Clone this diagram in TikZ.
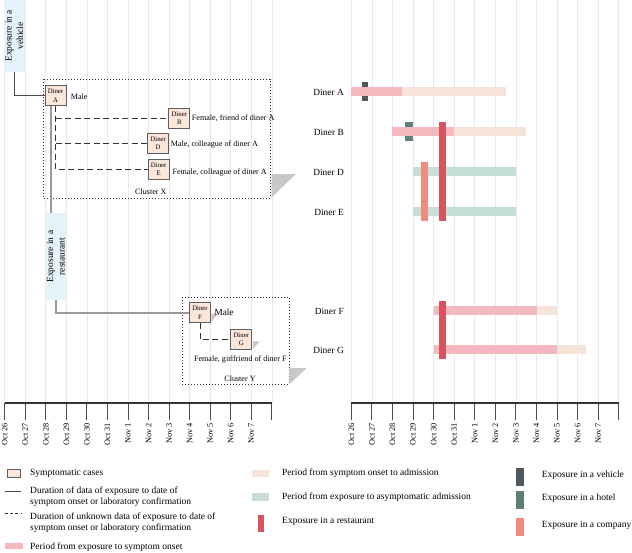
\documentclass[tikz,border=0pt]{standalone}
\usepackage{fontspec}
\setmainfont{Liberation Serif}
\definecolor{gridc}{HTML}{E9E9E9}
\definecolor{boxfill}{HTML}{FBE7DA}
\definecolor{boxdraw}{HTML}{5E5E5E}
\definecolor{lblblue}{HTML}{E4F2FA}
\definecolor{pinkc}{HTML}{F4B9BE}
\definecolor{beigec}{HTML}{F6E3DA}
\definecolor{greenc}{HTML}{C5DFD6}
\definecolor{redc}{HTML}{D9535F}
\definecolor{salmonc}{HTML}{EF8B7F}
\definecolor{vehc}{HTML}{4E585D}
\definecolor{hotelc}{HTML}{5C8076}
\definecolor{shadowc}{HTML}{C8C8C8}
\definecolor{thickc}{HTML}{9A9A9A}
\begin{document}
\begin{tikzpicture}[x=1pt,y=-1pt,
 gridln/.style={draw=gridc, line width=0.7pt},
 tickln/.style={draw=black!70, line width=0.9pt},
 axisln/.style={draw=black!80, line width=1.1pt},
 ticklbl/.style={rotate=90, anchor=east, inner sep=0pt, font=\fontsize{8.3}{10}\selectfont},
 nbox/.style={draw=boxdraw, fill=boxfill, line width=0.9pt, minimum width=21pt, minimum height=20pt, inner sep=0pt, align=center, font=\fontsize{6.8}{8.2}\selectfont},
 lblbox/.style={fill=lblblue, rotate=90, inner sep=0pt, align=center, font=\fontsize{9.4}{11.4}\selectfont},
 solidln/.style={draw=black!70, line width=0.9pt},
 thickln/.style={draw=thickc, line width=2pt},
 dashln/.style={draw=black!80, line width=0.8pt, dash pattern=on 6pt off 3.5pt},
 clusterbox/.style={draw=black!80, line width=0.9pt, dash pattern=on 0.9pt off 2.1pt},
 smalltxt/.style={inner sep=0pt, font=\fontsize{8.1}{9.6}\selectfont},
 rowlbl/.style={anchor=east, inner sep=0pt, font=\fontsize{9.4}{11}\selectfont},
 legtxt/.style={anchor=west, inner sep=0pt, align=left, font=\fontsize{9.5}{11.6}\selectfont},
]
\useasboundingbox (0,0) rectangle (632,552);
\fill[white] (0,0) rectangle (632,552);

% grid, axes
\foreach \i in {0,...,13} {
  \draw[gridln] ({4.7+20.55*\i},0) -- ({4.7+20.55*\i},403);
  \draw[gridln] ({351.3+20.57*\i},0) -- ({351.3+20.57*\i},403);
  \draw[tickln] ({4.7+20.55*\i},403) -- ({4.7+20.55*\i},420);
  \draw[tickln] ({351.3+20.57*\i},403) -- ({351.3+20.57*\i},420);
}
\draw[axisln] (4.7,403) -- (271.85,403);
\draw[axisln] (351.3,403) -- (618.7,403);
\foreach \t [count=\i from 0] in {Oct 26,Oct 27,Oct 28,Oct 29,Oct 30,Oct 31,Nov 1,Nov 2,Nov 3,Nov 4,Nov 5,Nov 6,Nov 7} {
  \node[ticklbl] (tl\i) at ({4.7+20.55*\i},423) {\t};
  \node[ticklbl] (tr\i) at ({351.3+20.57*\i},423) {\t};
}

% clusters
\draw[clusterbox] (43.3,79) rectangle (270,198.3);
\fill[shadowc] (271.7,174) -- (296,174) -- (271.7,197.3) -- cycle;
\draw[clusterbox] (182.3,297.3) rectangle (289.3,384.3);
\fill[shadowc] (289.3,368) -- (306.7,368) -- (289.3,384.3) -- cycle;

% label boxes
\node[lblbox, minimum width=71.7pt, minimum height=20.7pt] (veh) at (14.35,35.85) {Exposure in a\\vehicle};
\node[lblbox, minimum width=86.7pt, minimum height=20.3pt] (rest) at (55.85,256.65) {Exposure in a\\restaurant};

% nodes
\node[nbox] (A) at (55.5,95.7) {Diner\\A};
\node[nbox] (B) at (179.3,118.3) {Diner\\B};
\node[nbox] (D) at (158.2,143.3) {Diner\\D};
\node[nbox] (E) at (158.7,169.2) {Diner\\E};
\node[nbox] (F) at (200,312.7) {Diner\\F};
\node[nbox] (G) at (241.3,339.3) {Diner\\G};
\fill[shadowc] ([xshift=0.5pt,yshift=-1pt]F.east) -- ++(6.5,0) -- ([xshift=0.5pt,yshift=1.5pt]F.south east) -- cycle;
\fill[shadowc] ([xshift=0.5pt,yshift=-2pt]G.east) -- ++(7,0) -- ([xshift=0.5pt,yshift=0.5pt]G.south east) -- cycle;

% connectors
\draw[solidln] (veh.west) |- (A.west);
\draw[thickln] ([xshift=-4.5pt]A.south) -- ([xshift=-4.5pt]A.south |- rest.east);
\draw[dashln] (A.south) -- (A.south |- E.west) -- (E.west);
\draw[dashln] (A.south |- B.west) -- (B.west);
\draw[dashln] (A.south |- D.west) -- (D.west);
\draw[thickln] (rest.west) |- (F.west);
\draw[dashln] (F.south) |- (G.west);

% node texts
\node[smalltxt, anchor=west] (tA) at (70.7,96.7) {Male};
\node[smalltxt, anchor=west] (tB) at (191.7,118.3) {Female, friend of diner A};
\node[smalltxt, anchor=west] (tD) at (170.7,145) {Male, colleague of diner A};
\node[smalltxt, anchor=west] (tE) at (172.3,172.7) {Female, colleague of diner A};
\node[smalltxt] (cX) at (150.8,191.7) {Cluster X};
\node[inner sep=0pt, anchor=west, font=\fontsize{9.3}{11}\selectfont] (tF) at (214.3,312.3) {Male};
\node[smalltxt] (tG) at (240.3,360) {Female, girlfriend of diner F};
\node[smalltxt] (cY) at (240,378.3) {Cluster Y};

% right chart
\node[rowlbl] (rA) at (344,92.3) {Diner A};
\node[rowlbl] (rB) at (344,132) {Diner B};
\node[rowlbl] (rD) at (344,172) {Diner D};
\node[rowlbl] (rE) at (344,212) {Diner E};
\node[rowlbl] (rF) at (344,311) {Diner F};
\node[rowlbl] (rG) at (344,350.5) {Diner G};

\fill[vehc] (361.7,82.3) rectangle (368.3,101.3);
\fill[hotelc] (405.3,121.7) rectangle (412.7,140.7);

\fill[pinkc] (351.3,86.7) rectangle (402,95.7);
\fill[beigec] (402,86.7) rectangle (505.6,95.7);
\fill[pinkc] (392.4,126.7) rectangle (454.2,135.7);
\fill[beigec] (454.2,126.7) rectangle (526.2,135.7);
\fill[greenc] (413,166.7) rectangle (515.9,175.7);
\fill[greenc] (413,206.7) rectangle (515.9,215.7);
\fill[pinkc] (433.6,306) rectangle (536.5,314.7);
\fill[beigec] (536.5,306) rectangle (557,314.7);
\fill[pinkc] (433.6,345.3) rectangle (557,354.3);
\fill[beigec] (557,345.3) rectangle (585.8,354.3);

\fill[salmonc] (420.7,161.7) rectangle (427.7,221);
\fill[redc] (439,121.7) rectangle (446,221);
\fill[redc] (439.3,300.7) rectangle (446,359.3);

% legend
\filldraw[fill=boxfill, draw=boxdraw, line width=0.9pt] (7.3,469.3) rectangle (20.7,477.3);
\node[legtxt] (l1) at (30,473.3) {Symptomatic cases};
\draw[solidln] (4.7,491.7) -- (20.7,491.7);
\node[legtxt] (l2) at (30,496.5) {Duration of data of exposure to date of\\symptom onset or laboratory confirmation};
\draw[draw=black!80, line width=0.8pt, dash pattern=on 3pt off 2.3pt] (4.7,513.3) -- (20.7,513.3);
\node[legtxt] (l3) at (30,522.8) {Duration of unknown data of exposure to date of\\symptom onset or laboratory confirmation};
\fill[pinkc] (4.7,543.3) rectangle (22.7,549.3);
\node[legtxt] (l4) at (30,546.7) {Period from exposure to symptom onset};

\fill[beigec] (251.7,470) rectangle (269.3,477);
\node[legtxt] (l5) at (282,473) {Period from symptom onset to admission};
\fill[greenc] (251.7,493.3) rectangle (269.3,500.7);
\node[legtxt] (l6) at (282,497) {Period from exposure to asymptomatic admission};
\fill[redc] (258.3,515) rectangle (264.3,532.3);
\node[legtxt] (l7) at (282,521.7) {Exposure in a restaurant};

\fill[vehc] (516,468.3) rectangle (524,485.7);
\node[legtxt] (l8) at (541.7,475) {Exposure in a vehicle};
\fill[hotelc] (516,491) rectangle (524,508.7);
\node[legtxt] (l9) at (541.7,498.3) {Exposure in a hotel};
\fill[salmonc] (516,518.3) rectangle (524,536);
\node[legtxt] (l10) at (541.7,525) {Exposure in a company};
\end{tikzpicture}
\end{document}
